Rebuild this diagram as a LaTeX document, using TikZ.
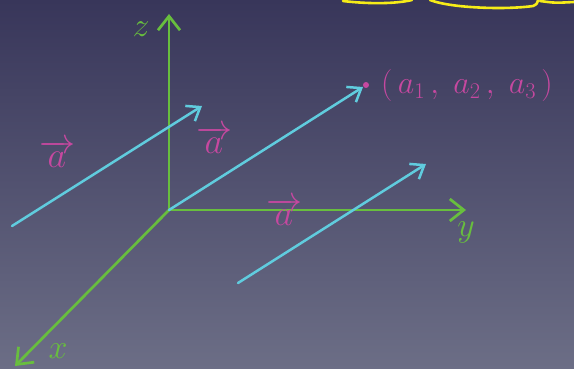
\RequirePackage{fix-cm}
\documentclass[tikz,border=0pt]{standalone}
\usetikzlibrary{arrows.meta}
\definecolor{BoardTop}{RGB}{56,54,90}
\definecolor{BoardBottom}{RGB}{108,110,134}
\definecolor{AxisGreen}{RGB}{104,190,62}
\definecolor{VecCyan}{RGB}{96,204,222}
\definecolor{LabelPink}{RGB}{198,72,160}
\definecolor{CloudYellow}{RGB}{246,236,24}
\tikzset{
  axis/.style={-{Straight Barb[length=14pt,width=22pt,line width=2.7pt]},
    line width=2.7pt,AxisGreen,line cap=round},
  vecline/.style={-{Straight Barb[length=12pt,width=18pt,line width=2.5pt]},
    line width=2.5pt,VecCyan,line cap=round},
  vlabel/.style={text=LabelPink,font=\fontsize{36}{36}\selectfont,inner sep=0pt},
  plabel/.style={text=LabelPink,font=\fontsize{32}{32}\selectfont,inner sep=0pt},
  axlabel/.style={text=AxisGreen,font=\fontsize{34}{34}\selectfont,inner sep=0pt},
  cloudline/.style={CloudYellow,line width=2.6pt,line cap=round}
}

\begin{document}
\begin{tikzpicture}[x=1pt,y=-1pt]
  % board
  \shade[top color=BoardTop,bottom color=BoardBottom] (0,0) rectangle (574,369);
  \useasboundingbox (0,0) rectangle (574,369);
  % bottom edge of the cloud
  \draw[cloudline] (343,1) .. controls (368,4) and (395,4) .. (412,0);
  \draw[cloudline] (430,0) .. controls (450,8) and (505,10) .. (533,6)
    .. controls (537,4) .. (538,0);
  \draw[cloudline] (540,1) .. controls (555,3) .. (574,2);
  % axes
  \coordinate (O) at (169,210);
  \coordinate (zend) at (169,14);
  \coordinate (yend) at (466,210);
  \coordinate (xend) at (15,366);
  \draw[axis] (O) -- (zend);
  \draw[axis] (O) -- (yend);
  \draw[axis] (O) -- (xend);
  \node[axlabel] (zlab) at (141,29) {$z$};
  \node[axlabel] (ylab) at (466,232) {$y$};
  \node[axlabel] (xlab) at (58,351) {$x$};
  % three copies of the vector
  \coordinate (v1s) at (12,226);
  \coordinate (v1e) at (202,106);
  \coordinate (v2e) at (363,87);
  \coordinate (v3s) at (238,283);
  \coordinate (v3e) at (426,164);
  \coordinate (P) at (366,85);
  \draw[vecline] (v1s) -- (v1e);
  \draw[vecline] (O) -- (v2e);
  \draw[vecline] (v3s) -- (v3e);
  \fill[LabelPink] (P) circle (3pt);
  \node[vlabel] (aleft) at (57,154) {$\overrightarrow{a}$};
  \node[vlabel] (amid) at (214,140) {$\overrightarrow{a}$};
  \node[vlabel] (alow) at (284,212) {$\overrightarrow{a}$};
  \node[plabel,anchor=west] (plab) at (381,86) {$(\,a_1\,,\;a_2\,,\;a_3\,)$};
\end{tikzpicture}
\end{document}
